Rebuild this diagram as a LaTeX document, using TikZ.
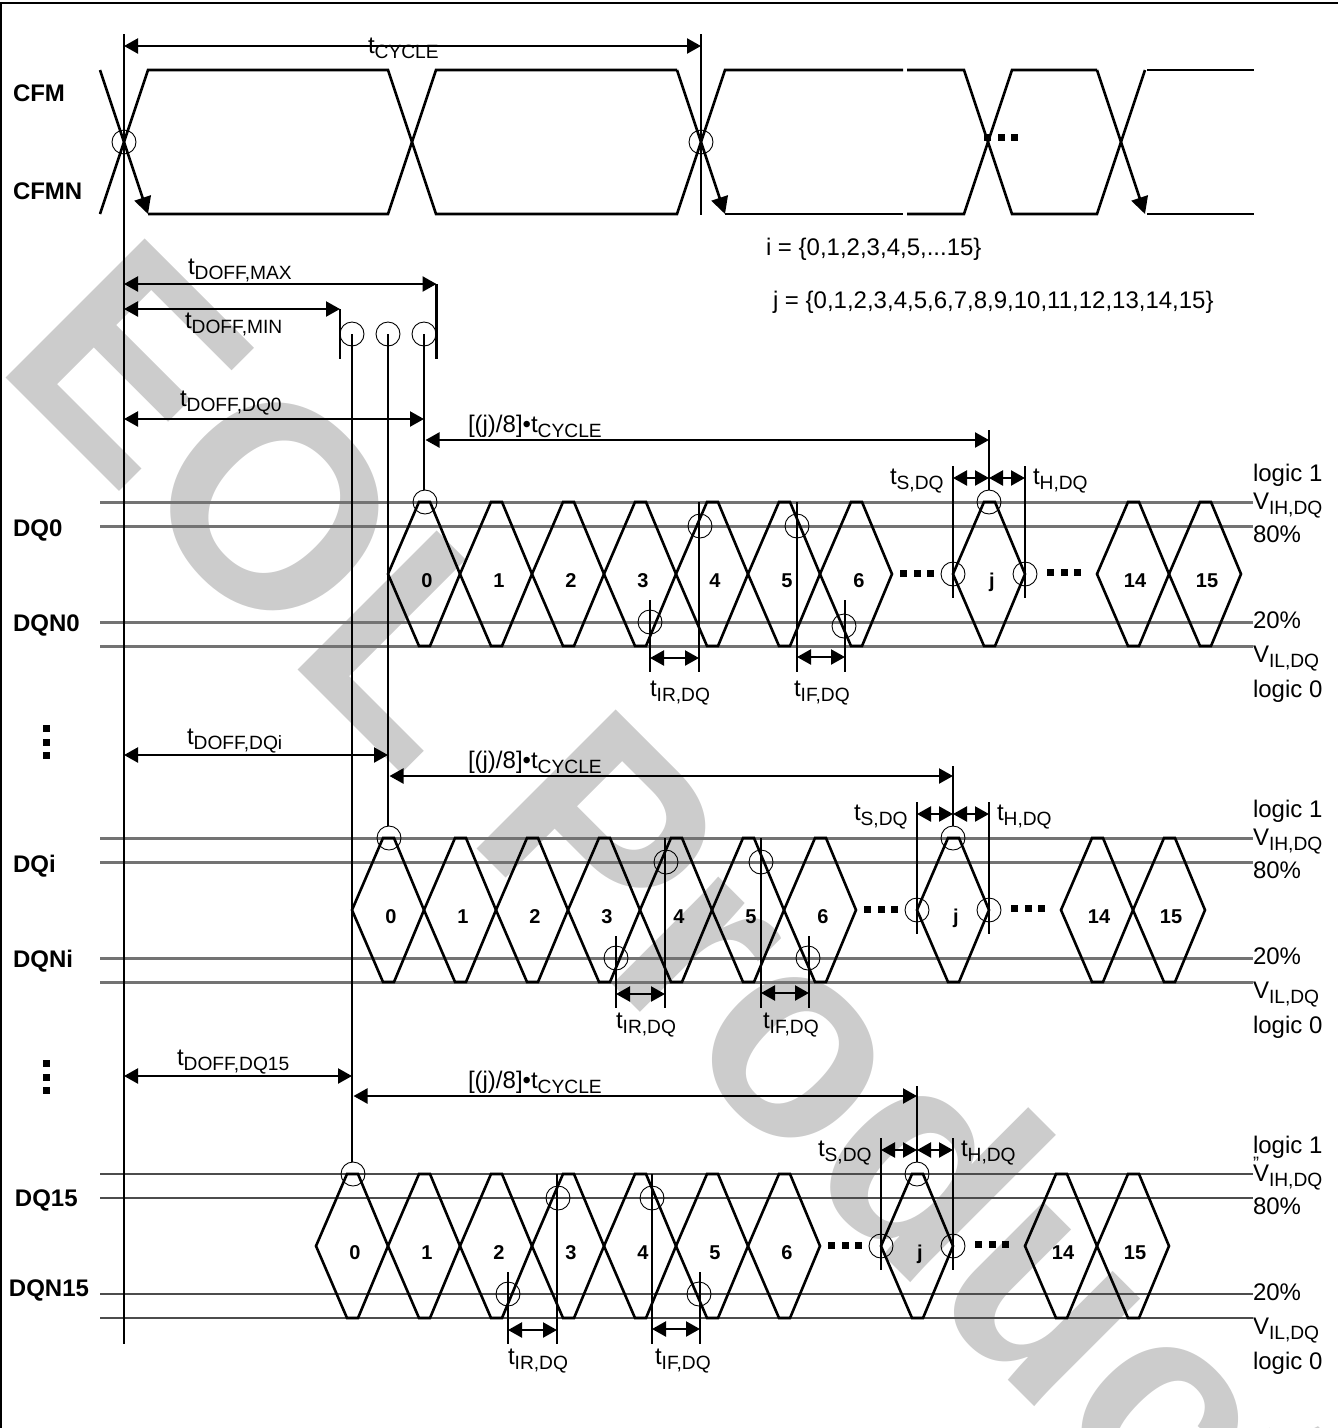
\documentclass[tikz,border=0pt]{standalone}
\usepackage{fontspec}
\setmainfont{Liberation Sans}
\usetikzlibrary{arrows.meta}
\definecolor{wm}{HTML}{CCCCCC}
\newcommand{\tsub}[2]{#1\raisebox{-5pt}{\fontsize{19.2}{19.2}\selectfont #2}}
\tikzset{
  x=1pt,y=-1pt,
  every node/.style={inner sep=0pt,outer sep=0pt},
  wave/.style={line width=2.6pt,line join=miter,black},
  vline/.style={line width=2.2pt,black},
  level/.style={line width=3pt,color=black!55},
  levelthin/.style={line width=2pt,color=black!70},
  ring/.style={line width=0.9pt,black},
  dim/.style={line width=2.3pt,black,{Triangle[length=14pt,width=15pt]}-{Triangle[length=14pt,width=15pt]}},
  tip/.style={line width=2.6pt,black,-{Triangle[length=17pt,width=17pt]}},
  txt/.style={anchor=base west,font=\fontsize{24}{24}\selectfont},
  sig/.style={anchor=base west,font=\fontsize{24}{24}\bfseries\selectfont},
  num/.style={anchor=base,font=\fontsize{20}{20}\bfseries\selectfont},
}
% one eye, with its left tip at x=#1
\newcommand{\eye}[1]{\draw[wave] (#1,574)--(#1+31,502)--(#1+42,502)--(#1+72,574)--(#1+42,646)--(#1+31,646)--cycle;}
\newcommand{\hdots}[2]{\foreach \k in {0,1,2}{\fill (#1+13.5*\k,#2-3.5) rectangle ++(7,7);}}
\newcommand{\vdotsb}[2]{\foreach \k in {0,1,2}{\fill (#1-3.5,#2+13.5*\k) rectangle ++(7,7);}}
% #1 prefix, #2 dx, #3 dy, #4 shift of the j arrow, #5 shift of the rise marks,
% #6 shift of the fall marks, #7 y of the low fall ring, #8 shift of the fall label, #9 baseline of the rise/fall labels
\newcommand{\dqgroup}[9]{%
\begin{scope}[shift={(#2,#3)},name prefix=#1-]
  \foreach \c in {0,...,6}{\eye{388+72*\c}}
  \eye{953}\eye{1097}\eye{1169}
  \foreach \c/\l in {0/0,1/1,2/2,3/3,4/4,5/5,6/6}{\node[num] at (427+72*\c,587) {\l};}
  \node[num] at (992,587) {j};
  \node[num] at (1135,587) {14};
  \node[num] at (1207,587) {15};
  \hdots{900}{573}\hdots{1047}{572}
  % sampling marks
  \coordinate (top) at (425,502);
  \coordinate (jtop) at (989,502);
  \coordinate (jl) at (953,574);
  \coordinate (jr) at (1025,574);
  \coordinate (ir1) at (650+#5,622);
  \coordinate (ir2) at (700+#5,526);
  \coordinate (if1) at (797+#6,526);
  \coordinate (if2) at (844+#6,#7);
  \foreach \p in {top,jtop,jl,jr,ir1,ir2,if1,if2}{\draw[ring] (\p) circle[radius=12];}
  % j interval
  \coordinate (ja) at (425.5,440+#4);
  \coordinate (jb) at (989,440+#4);
  \draw[dim] (ja)--(jb);
  \draw[vline] (989,430+#4)--(989,490);
  \node[txt] at (468-#2,432+#4) {[(j)/8]•\tsub{t}{CYCLE}};
  % setup and hold
  \draw[vline] (953,466)--(953,598);
  \draw[vline] (1025,466)--(1025,598);
  \coordinate (sa) at (953,478);
  \coordinate (sb) at (989,478);
  \coordinate (sc) at (1025,478);
  \draw[dim] (sa)--(sb);
  \draw[dim] (sb)--(sc);
  \node[txt] at (890,484) {\tsub{t}{S,DQ}};
  \node[txt] at (1033,484) {\tsub{t}{H,DQ}};
  % rise and fall
  \draw[vline] (650+#5,600)--(650+#5,672);
  \draw[vline] (699+#5,502)--(699+#5,672);
  \draw[vline] (797+#6,502)--(797+#6,672);
  \draw[vline] (845+#6,600)--(845+#6,672);
  \coordinate (ra) at (650+#5,658);
  \coordinate (rb) at (699+#5,658);
  \coordinate (fa) at (797+#6,657);
  \coordinate (fb) at (845+#6,657);
  \draw[dim] (ra)--(rb);
  \draw[dim] (fa)--(fb);
  \node[txt] at (650+#5,#9) {\tsub{t}{IR,DQ}};
  \node[txt] at (794+#6+#8,#9) {\tsub{t}{IF,DQ}};
  % right side
  \node[txt] at (1253-#2,481) {logic 1};
  \node[txt] at (1253-#2,509) {\tsub{V}{IH,DQ}};
  \node[txt] at (1253-#2,542) {80\%};
  \node[txt] at (1253-#2,628) {20\%};
  \node[txt] at (1253-#2,662) {\tsub{V}{IL,DQ}};
  \node[txt] at (1253-#2,697) {logic 0};
\end{scope}}
\begin{document}
\begin{tikzpicture}
\useasboundingbox (0,0) rectangle (1338,1428);
% watermark
\begin{scope}
  \clip (0,0) rectangle (1338,1428);
  \node[anchor=base west,rotate=-45,text=wm,font=\fontsize{286}{286}\bfseries\selectfont] at (-8,364) {EOL Product};
\end{scope}
% frame
\draw[line width=2.6pt,black] (1,1428)--(1,3)--(1338,3);
% level lines
\foreach \dy in {0,336}{\foreach \yy in {502,526,622,646}{\draw[level] (100,\yy+\dy)--(1253,\yy+\dy);}}
\foreach \yy in {1174,1198,1294,1318}{\draw[levelthin] (100,\yy)--(1253,\yy);}
% eyes and marks
\dqgroup{g0}{0}{0}{0}{0}{0}{626}{0}{696}
\dqgroup{gi}{-36}{336}{0}{2}{0}{622}{5}{692}
\dqgroup{gf}{-72}{672}{-16}{-70}{-73}{622}{6}{692}
\node[txt,font=\fontsize{18}{18}\selectfont] at (1253,1169) {”};
% clock
\coordinate (x0) at (124,142);
\coordinate (x1) at (701,142);
\draw[wave] (100,214)--(148,70)--(388,70)--(436,214)--(677,214)--(725,70)--(903,70);
\draw[wave] (907,70)--(964,70)--(1012,214)--(1097,214)--(1145,70);
\draw[wave] (1147,70)--(1254,70);
\draw[wave] (148,214)--(388,214)--(436,70)--(677,70);
\draw[wave] (725,214)--(903,214);
\draw[wave] (907,214)--(964,214)--(1012,70)--(1097,70);
\draw[wave] (1147,214)--(1254,214);
\draw[tip] (100,70)--(148,214);
\draw[tip] (677,70)--(725,214);
\draw[tip] (1097,70)--(1145,214);
\draw[ring] (x0) circle[radius=12];
\draw[ring] (x1) circle[radius=12];
\hdots{984}{137.5}
% long references
\coordinate (r0) at (124,34);
\coordinate (r0e) at (124,1344);
\coordinate (r1) at (701,34);
\coordinate (r1e) at (701,215);
\draw[vline] (r0)--(r0e);
\draw[vline] (r1)--(r1e);
\coordinate (cya) at (124,46);
\coordinate (cyb) at (701,46);
\draw[dim] (cya)--(cyb);
\node[txt] at (368,53) {\tsub{t}{CYCLE}};
% offsets
\coordinate (mx) at (436.5,284);
\coordinate (mn) at (340,309);
\coordinate (mx0) at (124,284);
\coordinate (mn0) at (124,309);
\draw[vline] (436.5,284)--(436.5,359);
\draw[vline] (340,309)--(340,359);
\draw[dim] (mx0)--(mx);
\draw[dim] (mn0)--(mn);
\node[txt] at (188,274) {\tsub{t}{DOFF,MAX}};
\node[txt] at (185,328) {\tsub{t}{DOFF,MIN}};
\foreach \n/\xx/\ee in {a/352/1162,b/388/826,c/424/490}{
  \coordinate (c\n) at (\xx,334);
  \draw[ring] (c\n) circle[radius=12];
  \draw[vline] (c\n)--(\xx,\ee);
}
\coordinate (d00) at (124,419);
\coordinate (d01) at (424,419);
\coordinate (di0) at (124,755);
\coordinate (di1) at (388,755);
\coordinate (df0) at (124,1076);
\coordinate (df1) at (352,1076);
\draw[dim] (d00)--(d01);
\draw[dim] (di0)--(di1);
\draw[dim] (df0)--(df1);
\node[txt] at (180,406) {\tsub{t}{DOFF,DQ0}};
\node[txt] at (187,744) {\tsub{t}{DOFF,DQi}};
\node[txt] at (177,1065) {\tsub{t}{DOFF,DQ15}};
% set definitions
\node[txt] at (766,255) {i = \{0,1,2,3,4,5,...15\}};
\node[txt] at (773,308) {j = \{0,1,2,3,4,5,6,7,8,9,10,11,12,13,14,15\}};
% signal names
\node[sig] at (13,101) {CFM};
\node[sig] at (13,199) {CFMN};
\node[sig] at (13,536) {DQ0};
\node[sig] at (13,631) {DQN0};
\node[sig] at (13,872) {DQi};
\node[sig] at (13,967) {DQNi};
\node[sig] at (15,1206) {DQ15};
\node[sig] at (9,1296) {DQN15};
\vdotsb{46}{725}
\vdotsb{46}{1060}
\end{tikzpicture}
\end{document}
